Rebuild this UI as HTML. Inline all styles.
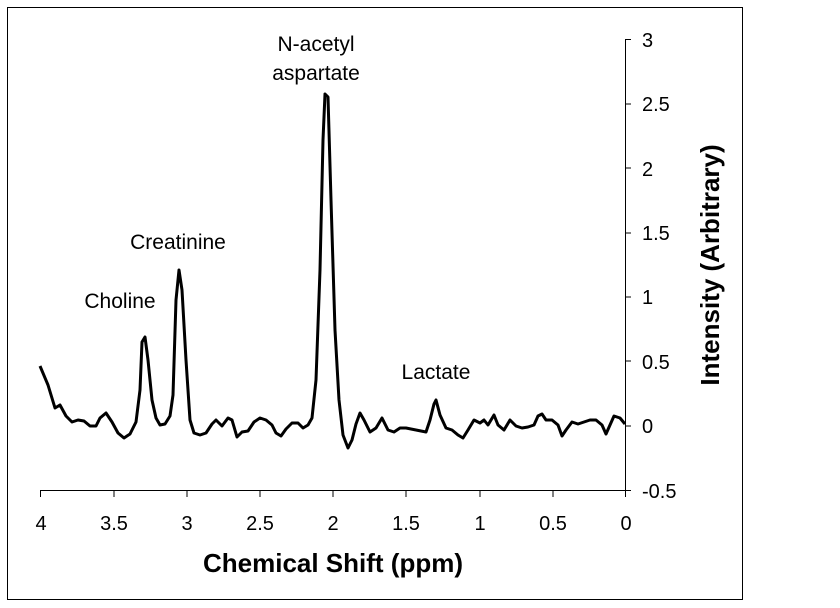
<!DOCTYPE html>
<html><head><style>
body{margin:0;background:#fff;}
svg{display:block;font-family:"Liberation Sans",Arial,sans-serif;}
</style></head><body>
<svg width="840" height="608" viewBox="0 0 840 608">
<rect x="7.5" y="7.5" width="735" height="592" fill="#fff" stroke="#000" stroke-width="1"/>
<g stroke="#000" stroke-width="1" fill="none">
<line x1="625.5" y1="39" x2="625.5" y2="491"/>
<line x1="625.5" y1="39.5" x2="631" y2="39.5"/>
<line x1="625.5" y1="104" x2="631" y2="104"/>
<line x1="625.5" y1="168" x2="631" y2="168"/>
<line x1="625.5" y1="233" x2="631" y2="233"/>
<line x1="625.5" y1="297" x2="631" y2="297"/>
<line x1="625.5" y1="361" x2="631" y2="361"/>
<line x1="625.5" y1="426" x2="631" y2="426"/>
<line x1="625.5" y1="490.5" x2="631" y2="490.5"/>
<line x1="40" y1="490.5" x2="626" y2="490.5"/>
<line x1="40.5" y1="490" x2="40.5" y2="497"/>
<line x1="114" y1="490" x2="114" y2="497"/>
<line x1="187" y1="490" x2="187" y2="497"/>
<line x1="260" y1="490" x2="260" y2="497"/>
<line x1="333" y1="490" x2="333" y2="497"/>
<line x1="406" y1="490" x2="406" y2="497"/>
<line x1="480" y1="490" x2="480" y2="497"/>
<line x1="553" y1="490" x2="553" y2="497"/>
<line x1="625.5" y1="490" x2="625.5" y2="497"/>
</g>
<g font-size="20" fill="#000">
<text x="642" y="47">3</text>
<text x="642" y="111">2.5</text>
<text x="642" y="176">2</text>
<text x="642" y="240">1.5</text>
<text x="642" y="304">1</text>
<text x="642" y="369">0.5</text>
<text x="642" y="433">0</text>
<text x="642" y="498">-0.5</text>
</g>
<g font-size="20" fill="#000" text-anchor="middle">
<text x="41" y="530">4</text>
<text x="114" y="530">3.5</text>
<text x="187" y="530">3</text>
<text x="260" y="530">2.5</text>
<text x="333" y="530">2</text>
<text x="406" y="530">1.5</text>
<text x="480" y="530">1</text>
<text x="553" y="530">0.5</text>
<text x="626" y="530">0</text>
</g>
<g font-size="21" fill="#000" text-anchor="middle">
<text x="316" y="51">N-acetyl</text>
<text x="316" y="80">aspartate</text>
<text x="178" y="249">Creatinine</text>
<text x="120" y="308">Choline</text>
<text x="436" y="379">Lactate</text>
</g>
<text x="333" y="572" font-size="26" font-weight="bold" text-anchor="middle">Chemical Shift (ppm)</text>
<text transform="translate(719,265) rotate(-90)" font-size="26" font-weight="bold" text-anchor="middle">Intensity (Arbitrary)</text>
<polyline fill="none" stroke="#000" stroke-width="3" stroke-linejoin="round" points="40,366 48,385 55,408 60,405 66,416 72,422 78,420 84,421 90,426 96,426 100,418 106,413 112,422 118,433 124,438 130,434 136,422 140,390 142,342 145,337 148,360 152,400 156,418 160,425 165,424 170,416 173,395 176,300 179,270 182,290 186,360 190,420 194,433 200,435 206,433 212,424 216,420 222,426 228,418 232,420 237,437 242,432 248,431 254,422 260,418 266,420 272,425 276,433 281,436 286,429 292,423 298,423 303,428 308,425 312,418 316,380 320,270 323,140 325,94 328,97 331,200 335,330 339,400 343,435 348,448 352,440 356,424 360,413 364,420 370,432 376,428 382,418 388,430 394,432 400,428 406,428 416,430 426,432 430,420 434,404 436,400 440,415 446,428 452,430 458,435 463,438 468,430 474,420 480,423 484,420 488,425 494,415 498,425 504,430 510,420 516,426 522,428 528,427 534,425 538,416 542,414 546,420 552,420 558,425 562,436 566,430 572,422 578,424 584,422 590,420 596,420 602,425 606,434 610,425 614,416 620,418 625,424"/>
</svg>
</body></html>
